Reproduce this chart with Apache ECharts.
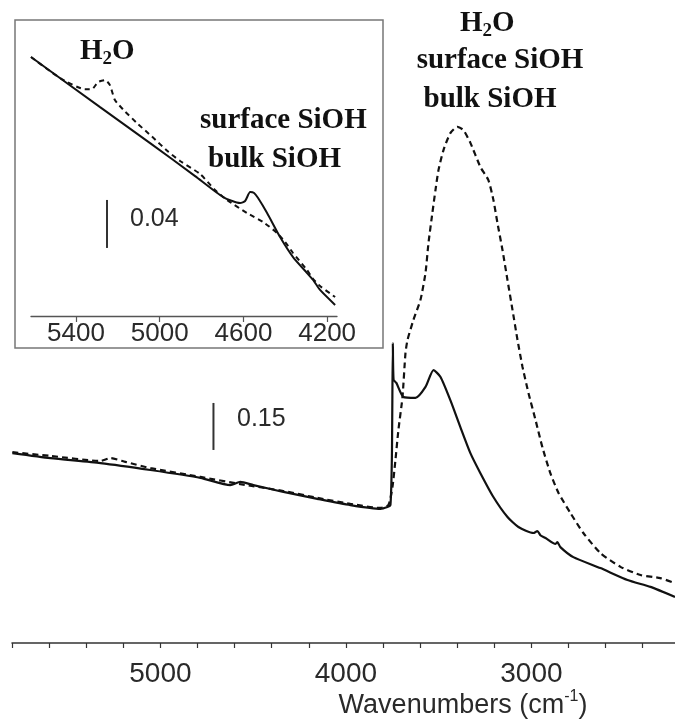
<!DOCTYPE html>
<html>
<head>
<meta charset="utf-8">
<script src="https://cdn.jsdelivr.net/npm/echarts@6/dist/echarts.min.js"></script>
<style>html,body{margin:0;padding:0;background:#fff}#c{width:675px;height:722px}</style>
</head>
<body>
<div id="c"></div>
<script>
// ---------- Main spectrum (wavenumber, absorbance) ----------
const mainSolidWn  = [5798,5593,5323,5054,4784,4623,4569,4499,4337,4154,3976,3814,3776,3760,3752,3747,3743,3728,3690,3625,3571,3528,3490,3437,3383,3329,3275,3205,3129,3070,2989,2968,2950,2924,2870,2860,2844,2774,2628,2482,2358,2226];
const mainSolidAbs = [0.606,0.590,0.574,0.552,0.527,0.504,0.514,0.504,0.482,0.460,0.440,0.428,0.434,0.440,0.600,0.957,0.840,0.830,0.785,0.782,0.817,0.871,0.849,0.775,0.689,0.606,0.542,0.466,0.402,0.370,0.351,0.357,0.343,0.335,0.316,0.322,0.306,0.274,0.239,0.201,0.179,0.147];
const mainDashWn   = [5798,5593,5323,5270,5189,5054,4784,4569,4337,4154,3976,3814,3771,3749,3733,3717,3695,3679,3668,3636,3598,3571,3555,3534,3517,3501,3474,3437,3399,3367,3329,3275,3232,3205,3183,3156,3129,3102,3075,3048,3016,2978,2941,2898,2854,2790,2720,2628,2520,2412,2305,2226];
const mainDashAbs  = [0.609,0.597,0.581,0.590,0.578,0.558,0.530,0.507,0.485,0.463,0.444,0.431,0.440,0.498,0.584,0.680,0.785,0.925,0.967,1.031,1.095,1.181,1.276,1.372,1.446,1.509,1.573,1.627,1.647,1.637,1.596,1.519,1.477,1.414,1.340,1.254,1.158,1.063,0.967,0.881,0.798,0.712,0.625,0.542,0.479,0.415,0.351,0.287,0.243,0.217,0.207,0.191];
const mainTicks  = [5800,5600,5400,5200,5000,4800,4600,4400,4200,4000,3800,3600,3400,3200,3000,2800,2600,2400];
const mainLabels = [5000,4000,3000];
const mainScaleWn = [4714,4714];
const mainScaleAbs = [0.616,0.766];   // 0.15 bar

// ---------- Inset spectrum ----------
const insetSolidWn  = [5615,5285,5046,4831,4697,4616,4592,4568,4549,4530,4487,4425,4363,4296,4267,4234,4162];
const insetSolidAbs = [0.2158,0.1741,0.1441,0.1166,0.0991,0.0941,0.0958,0.1033,0.1025,0.0983,0.0858,0.0658,0.0491,0.0358,0.0300,0.0217,0.0092];
const insetDashWn   = [5615,5476,5357,5324,5295,5261,5238,5214,5166,5104,5037,4960,4903,4807,4736,4678,4583,4506,4439,4401,4363,4296,4267,4234,4162];
const insetDashAbs  = [0.2158,0.1983,0.1890,0.1890,0.1949,0.1966,0.1924,0.1800,0.1705,0.1600,0.1495,0.1370,0.1292,0.1183,0.1050,0.0966,0.0858,0.0783,0.0691,0.0617,0.0525,0.0383,0.0308,0.0250,0.0158];
const insetTicks  = [5400,5000,4600,4200];
const insetLabels = [5400,5000,4600,4200];
const insetScaleWn = [5252,5252];
const insetScaleAbs = [0.0567,0.0967]; // 0.04 bar

const zip = (a,b) => a.map((v,i)=>[v,b[i]]);

const chart = echarts.init(document.getElementById('c'), null, {renderer:'canvas'});
const serifBold = '"Liberation Serif","Times New Roman",serif';
const sans = '"Liberation Sans",Arial,sans-serif';
const lineCol = '#111';
const plain = v => String(v);

const h2oRich = {
  a:{font:'bold 29px '+serifBold, fill:'#111', verticalAlign:'top', lineHeight:32},
  s:{font:'bold 19px '+serifBold, fill:'#111', verticalAlign:'bottom', lineHeight:32, padding:[14,0,0,0]}
};

const option = {
  backgroundColor:'#fff',
  animation:false,
  grid:[
    {left:12, right:0, top:20, bottom:79},
    {left:31, right:338, top:36, bottom:406}
  ],
  xAxis:[
    {gridIndex:0, type:'value', inverse:true, min:2226, max:5800,
     axisLine:{show:true, onZero:false, lineStyle:{color:'#333', width:1.5}},
     axisTick:{show:true, customValues:mainTicks, length:5, lineStyle:{color:'#333', width:1.2}},
     axisLabel:{show:true, customValues:mainLabels, formatter:plain, fontFamily:sans, fontSize:28, color:'#2a2a2a', margin:17},
     splitLine:{show:false}},
    {gridIndex:1, type:'value', inverse:true, min:4153, max:5615,
     axisLine:{show:true, onZero:false, lineStyle:{color:'#555', width:1.3}},
     axisTick:{show:true, customValues:insetTicks, length:6, lineStyle:{color:'#555', width:1.2}},
     axisLabel:{show:true, customValues:insetLabels, formatter:plain, fontFamily:sans, fontSize:26, color:'#2a2a2a', margin:5},
     splitLine:{show:false}}
  ],
  yAxis:[
    {gridIndex:0, type:'value', min:0, max:1.988, show:false, splitLine:{show:false}},
    {gridIndex:1, type:'value', min:0, max:0.23333, show:false, splitLine:{show:false}}
  ],
  graphic:[
    {type:'rect', z:-10, shape:{x:15, y:20, width:368, height:328}, style:{fill:'#fff', stroke:'#777', lineWidth:1.5}},
    {type:'text', left:80, top:36, style:{text:'{a|H}{s|2}{a|O}', rich:h2oRich}},
    {type:'text', x:200, y:121, style:{text:'surface SiOH', font:'bold 29px '+serifBold, fill:'#111', verticalAlign:'middle', align:'left'}},
    {type:'text', x:208, y:160, style:{text:'bulk SiOH', font:'bold 29px '+serifBold, fill:'#111', verticalAlign:'middle', align:'left'}},
    {type:'text', left:460, top:8, style:{text:'{a|H}{s|2}{a|O}', rich:h2oRich}},
    {type:'text', x:500, y:61, style:{text:'surface SiOH', font:'bold 29px '+serifBold, fill:'#111', verticalAlign:'middle', align:'center'}},
    {type:'text', x:490, y:100, style:{text:'bulk SiOH', font:'bold 29px '+serifBold, fill:'#111', verticalAlign:'middle', align:'center'}},
    {type:'text', x:237, y:419, style:{text:'0.15', font:'25px '+sans, fill:'#2a2a2a', verticalAlign:'middle', align:'left'}},
    {type:'text', x:130, y:219, style:{text:'0.04', font:'25px '+sans, fill:'#2a2a2a', verticalAlign:'middle', align:'left'}},
    {type:'text', x:463, y:704, style:{text:'{a|Wavenumbers (cm}{s|-1}{a|)}', align:'center', verticalAlign:'middle', rich:{a:{font:'27px '+sans, fill:'#2a2a2a', verticalAlign:'bottom', lineHeight:30}, s:{font:'16px '+sans, fill:'#2a2a2a', verticalAlign:'top', lineHeight:30, padding:[0,0,12,0]}}}}
  ],
  series:[
    {type:'line', xAxisIndex:0, yAxisIndex:0, data:zip(mainDashWn,mainDashAbs), showSymbol:false, smooth:0.2,
     lineStyle:{color:lineCol, width:2.2, type:[6,4]}},
    {type:'line', xAxisIndex:0, yAxisIndex:0, data:zip(mainSolidWn,mainSolidAbs), showSymbol:false, smooth:0.2,
     lineStyle:{color:lineCol, width:2.2}},
    {type:'line', xAxisIndex:0, yAxisIndex:0, data:zip(mainScaleWn,mainScaleAbs), showSymbol:false,
     lineStyle:{color:'#333', width:2}},
    {type:'line', xAxisIndex:1, yAxisIndex:1, data:zip(insetDashWn,insetDashAbs), showSymbol:false, smooth:0.2,
     lineStyle:{color:lineCol, width:2, type:[5,4]}},
    {type:'line', xAxisIndex:1, yAxisIndex:1, data:zip(insetSolidWn,insetSolidAbs), showSymbol:false, smooth:0.2,
     lineStyle:{color:lineCol, width:2}},
    {type:'line', xAxisIndex:1, yAxisIndex:1, data:zip(insetScaleWn,insetScaleAbs), showSymbol:false,
     lineStyle:{color:'#333', width:2}}
  ]
};
chart.setOption(option);
</script>
</body>
</html>
